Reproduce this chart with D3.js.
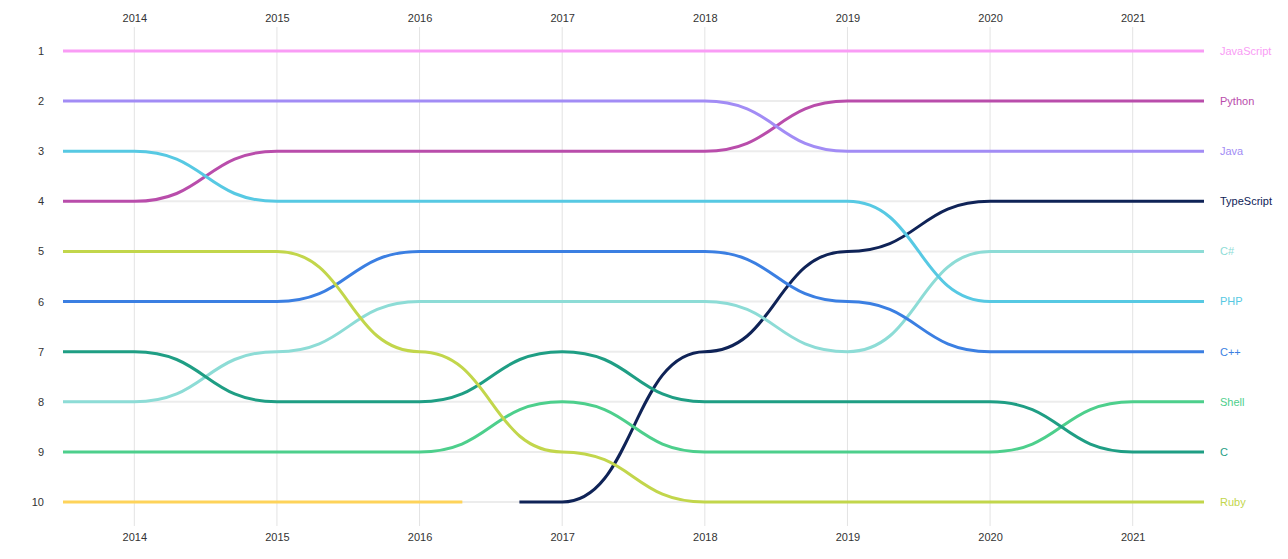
<!DOCTYPE html>
<html>
<head>
<meta charset="utf-8">
<script src="https://cdn.jsdelivr.net/npm/d3@7"></script>
<style>
  html, body { margin: 0; padding: 0; background: #fff; }
  svg { display: block; font-family: "Liberation Sans", Arial, sans-serif; }
</style>
</head>
<body>
<svg id="chart" width="1288" height="559"></svg>
<script>
const years = [2014, 2015, 2016, 2017, 2018, 2019, 2020, 2021];
const rankTicks = [1, 2, 3, 4, 5, 6, 7, 8, 9, 10];

const languages = ["JavaScript", "Python", "Java", "TypeScript", "C#", "PHP", "C++", "Shell", "C", "Ruby", "Objective-C"];
const showLabel = [true, true, true, true, true, true, true, true, true, true, false];
const colors = ["#f99cf5", "#b94dab", "#a28cf5", "#0f2357", "#8ddcd6", "#57c9e3", "#3b7fe2", "#4dcf8c", "#1f9e84", "#c2d64b", "#fed35a"];

const rankJavaScript = [1, 1, 1, 1, 1, 1, 1, 1];
const rankPython     = [4, 3, 3, 3, 3, 2, 2, 2];
const rankJava       = [2, 2, 2, 2, 2, 3, 3, 3];
const rankTypeScript = [null, null, null, 10, 7, 5, 4, 4];
const rankCSharp     = [8, 7, 6, 6, 6, 7, 5, 5];
const rankPHP        = [3, 4, 4, 4, 4, 4, 6, 6];
const rankCpp        = [6, 6, 5, 5, 5, 6, 7, 7];
const rankShell      = [9, 9, 9, 8, 9, 9, 9, 8];
const rankC          = [7, 8, 8, 7, 8, 8, 8, 9];
const rankRuby       = [5, 5, 7, 9, 10, 10, 10, 10];
const rankObjC       = [10, 10, 10, null, null, null, null, null];

const ranks = [rankJavaScript, rankPython, rankJava, rankTypeScript, rankCSharp, rankPHP, rankCpp, rankShell, rankC, rankRuby, rankObjC];

const svg = d3.select("#chart");
const x = d3.scaleLinear().domain([2013.5, 2021.5]).range([63, 1204]);
const y = d3.scaleLinear().domain([1, 10]).range([51, 502]);

// gridlines
const grid = svg.append("g");
grid.selectAll("line.v").data(years).join("line")
  .attr("x1", d => x(d)).attr("x2", d => x(d))
  .attr("y1", 27).attr("y2", 526)
  .attr("stroke", "#e3e3e3").attr("stroke-width", 1);
grid.selectAll("line.h").data(rankTicks).join("line")
  .attr("x1", x(2013.5)).attr("x2", x(2021.5))
  .attr("y1", d => y(d)).attr("y2", d => y(d))
  .attr("stroke", "#ececec").attr("stroke-width", 2);

// axes
const xTop = d3.axisTop(x).tickValues(years).tickFormat(d3.format("d")).tickSize(0).tickPadding(0);
const xBot = d3.axisBottom(x).tickValues(years).tickFormat(d3.format("d")).tickSize(0).tickPadding(0);
const yAx = d3.axisLeft(y).tickValues(rankTicks).tickFormat(d3.format("d")).tickSize(0).tickPadding(0);

function styleAxis(g) {
  g.select(".domain").remove();
  g.selectAll("text").attr("fill", "#333").attr("font-size", 11)
    .attr("font-family", "Liberation Sans, Arial, sans-serif");
}
svg.append("g").attr("transform", "translate(0,22)").call(xTop).call(styleAxis);
svg.append("g").attr("transform", "translate(0,533)").call(xBot).call(styleAxis);
svg.append("g").attr("transform", "translate(44,0)").call(yAx).call(styleAxis);

// series
const line = d3.line().x(d => x(d[0])).y(d => y(d[1])).curve(d3.curveBumpX);

const series = languages.map((name, i) => {
  const r = ranks[i];
  const pts = [];
  years.forEach((yr, j) => { if (r[j] != null) pts.push([yr, r[j]]); });
  const first = pts[0], last = pts[pts.length - 1];
  const startExt = first[0] === years[0] ? 0.5 : 0.3;
  const endExt = last[0] === years[years.length - 1] ? 0.5 : 0.3;
  const full = [[first[0] - startExt, first[1]], ...pts, [last[0] + endExt, last[1]]];
  return { name, color: colors[i], pts: full, label: showLabel[i], lastRank: last[1] };
});

svg.append("g").selectAll("path").data(series).join("path")
  .attr("d", d => line(d.pts))
  .attr("fill", "none")
  .attr("stroke", d => d.color)
  .attr("stroke-width", 3);

svg.append("g").selectAll("text").data(series.filter(d => d.label)).join("text")
  .attr("x", x(2021.5) + 16)
  .attr("y", d => y(d.lastRank))
  .attr("dy", "0.35em")
  .attr("fill", d => d.color)
  .attr("font-size", 11)
  .text(d => d.name);
</script>
</body>
</html>
